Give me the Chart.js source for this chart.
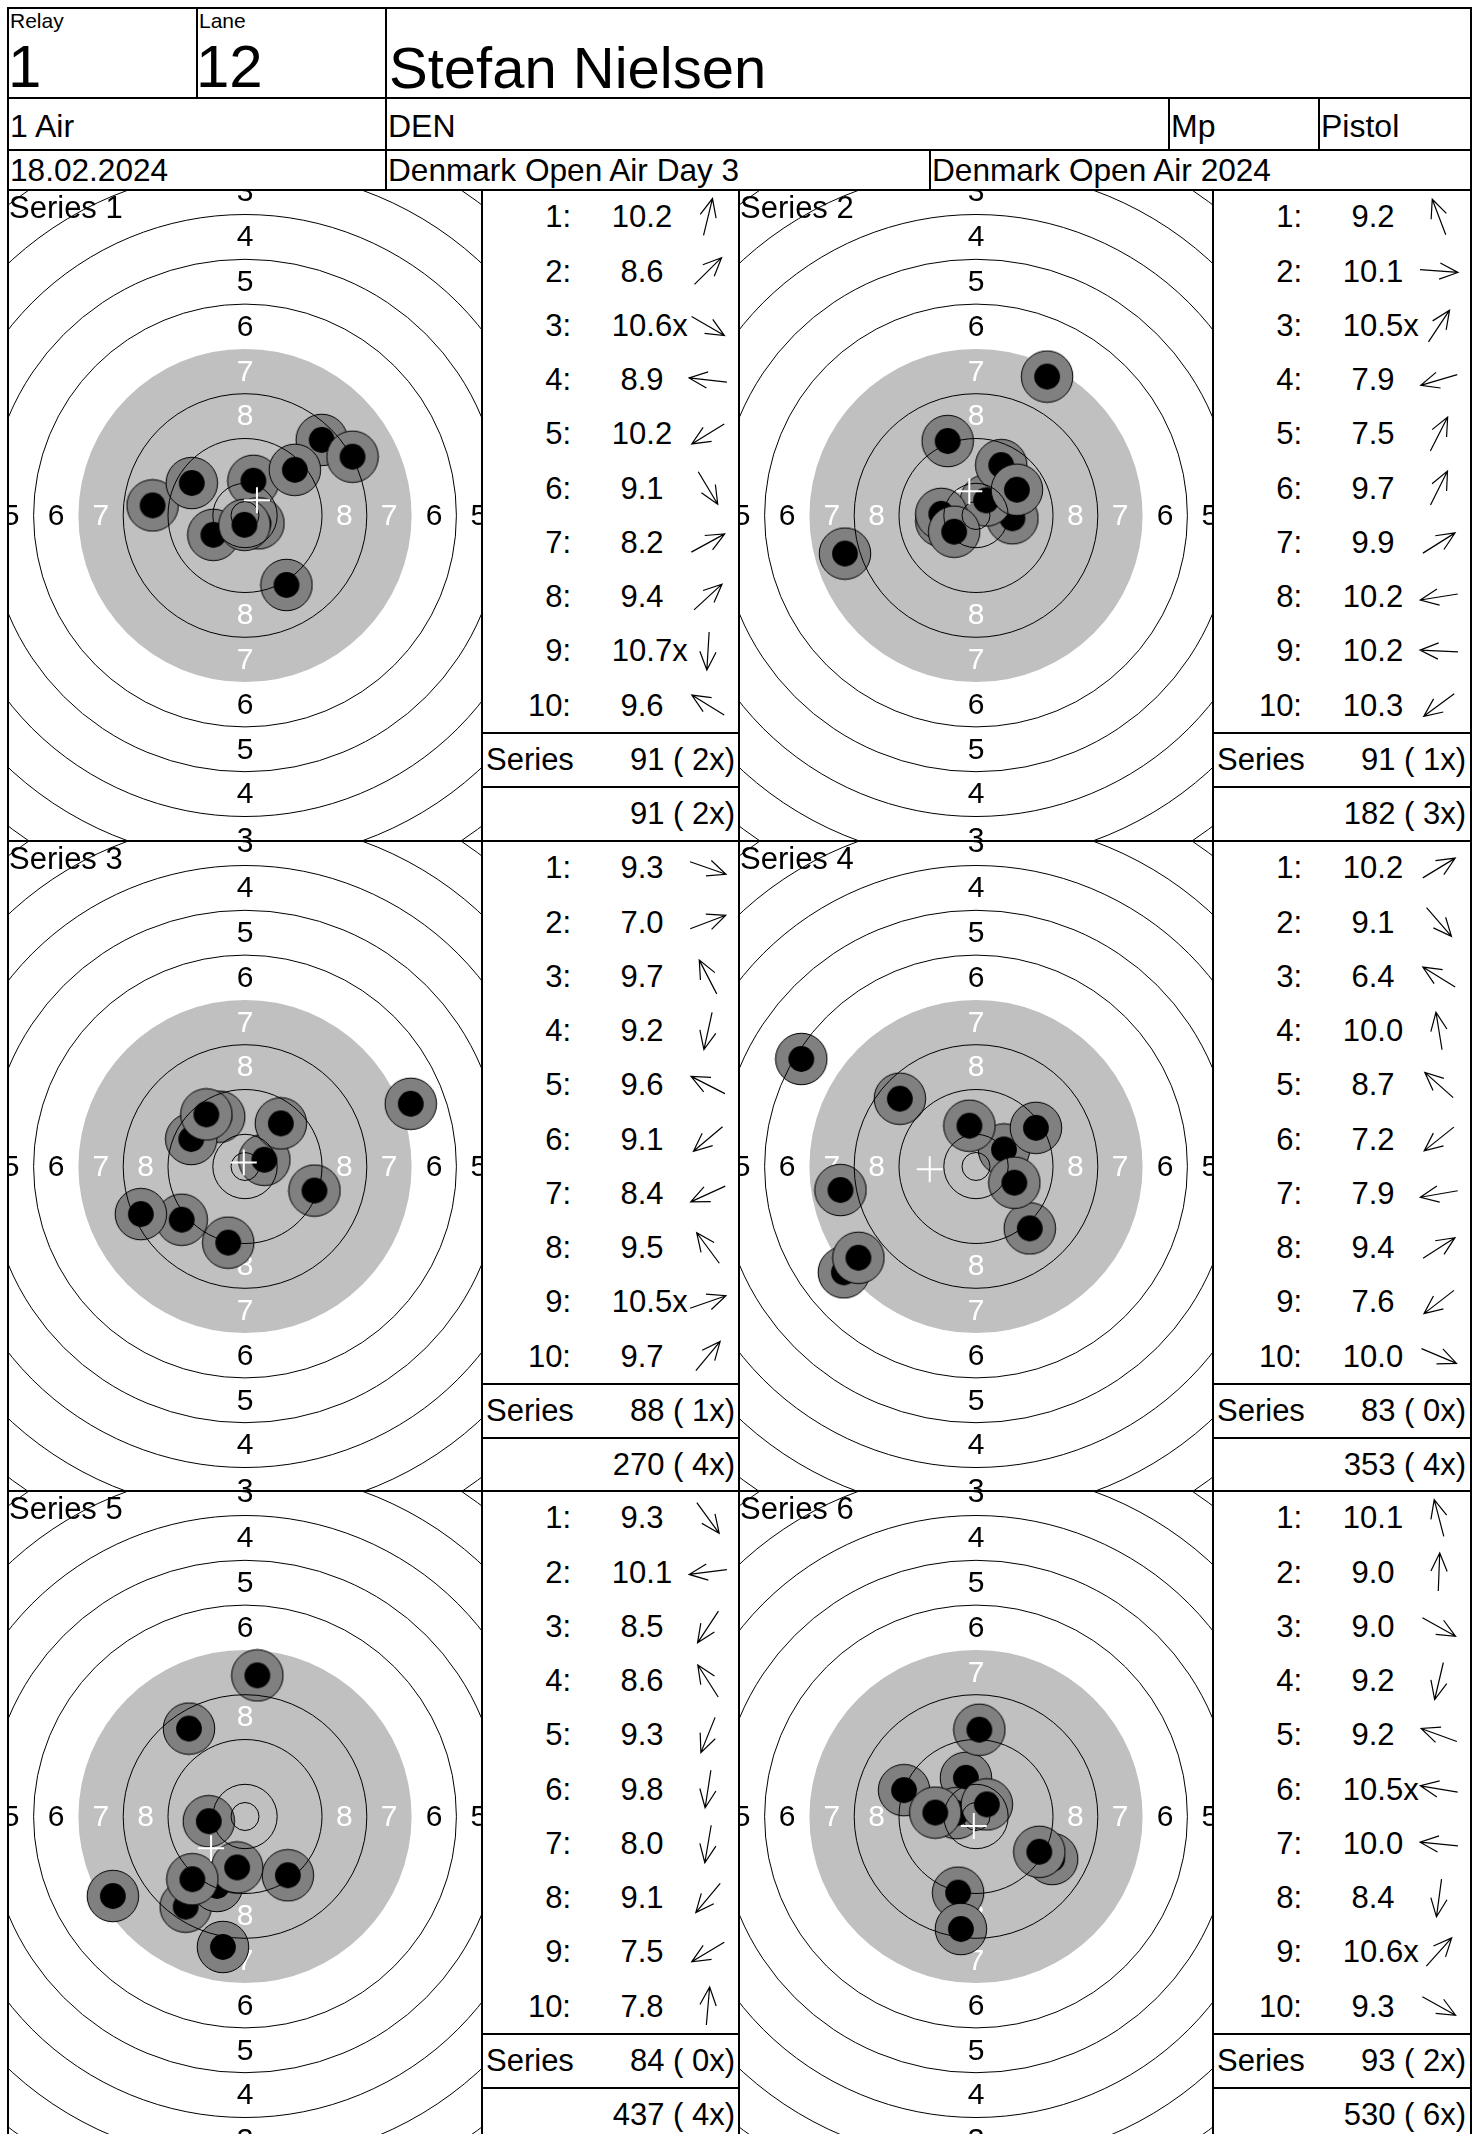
<!DOCTYPE html>
<html>
<head>
<meta charset="utf-8">
<script src="https://cdn.jsdelivr.net/npm/chart.js@4.4.1/dist/chart.umd.min.js"></script>
<style>
  html, body { margin: 0; padding: 0; width: 1478px; height: 2134px; overflow: hidden; background: #fff; }
  body { position: relative; font-family: "Liberation Sans", Arial, Helvetica, sans-serif; color: #000; }
  .ln { position: absolute; background: #000; }
  .t { position: absolute; white-space: nowrap; line-height: 1; }
  canvas { position: absolute; }
</style>
</head>
<body>
<script>
// header texts
const relayNo = '1';
const laneNo = '12';
const shooterName = 'Stefan Nielsen';
const headerRow2 = ['1 Air', 'DEN', 'Mp', 'Pistol'];
const headerRow3 = ['18.02.2024', 'Denmark Open Air Day 3', 'Denmark Open Air 2024'];

// series
const seriesNames = ['Series 1', 'Series 2', 'Series 3', 'Series 4', 'Series 5', 'Series 6'];

// shot positions in mm from target centre (x right, y up), one row per series
const shotX = [
  [1.5, 13.7, 2.4, -16.5, -5.65, 7.4, 19.2, 8.9, -0.1, -9.5],
  [-5.06, 6.5, 1.8, -23.4, 12.7, 4.5, 7.3, -6.2, -6.2, -3.9],
  [12.4, 29.6, -4.6, -3.0, -9.6, -11.3, -18.6, -6.9, 3.45, 6.4],
  [5.0, 9.6, -31.2, -1.18, -13.6, -23.6, -24.2, 10.7, -21.0, 6.85],
  [7.65, -6.47, -10.6, -10.0, -5.0, -1.4, -3.95, -9.4, -23.6, 2.2],
  [-1.8, 0.6, 13.6, -3.2, -12.85, -3.5, -7.27, -2.7, 1.94, 11.3]
];
const shotY = [
  [6.2, 13.5, -1.4, 1.8, -3.45, -12.4, 10.5, 8.15, -1.67, 5.8],
  [13.3, -0.5, 2.7, -6.8, 24.8, 9.0, 4.6, -1.0, 0.3, -2.9],
  [-4.3, 11.2, 8.9, -13.6, 4.9, -9.5, -8.5, 9.3, 1.2, 7.7],
  [3.04, -11.06, 19.2, 7.28, 12.1, -18.9, -4.2, 6.9, -16.3, -2.9],
  [-10.5, -0.84, -16.1, 15.7, -12.4, -9.1, -23.3, -11.2, -14.2, 25.2],
  [6.9, 15.5, -7.6, -13.6, 4.7, 0.6, 0.7, -20.1, 2.16, -6.3]
];
const scores = [
  [10.2, 8.6, 10.6, 8.9, 10.2, 9.1, 8.2, 9.4, 10.7, 9.6],
  [9.2, 10.1, 10.5, 7.9, 7.5, 9.7, 9.9, 10.2, 10.2, 10.3],
  [9.3, 7.0, 9.7, 9.2, 9.6, 9.1, 8.4, 9.5, 10.5, 9.7],
  [10.2, 9.1, 6.4, 10.0, 8.7, 7.2, 7.9, 9.4, 7.6, 10.0],
  [9.3, 10.1, 8.5, 8.6, 9.3, 9.8, 8.0, 9.1, 7.5, 7.8],
  [10.1, 9.0, 9.0, 9.2, 9.2, 10.5, 10.0, 8.4, 10.6, 9.3]
];
const innerTens = [
  [0, 0, 1, 0, 0, 0, 0, 0, 1, 0],
  [0, 0, 1, 0, 0, 0, 0, 0, 0, 0],
  [0, 0, 0, 0, 0, 0, 0, 0, 1, 0],
  [0, 0, 0, 0, 0, 0, 0, 0, 0, 0],
  [0, 0, 0, 0, 0, 0, 0, 0, 0, 0],
  [0, 0, 0, 0, 0, 1, 0, 0, 1, 0]
];
const seriesTotals = [91, 91, 88, 83, 84, 93];
const seriesX = [2, 1, 1, 0, 0, 2];
const runningTotals = [91, 182, 270, 353, 437, 530];
const runningX = [2, 3, 4, 4, 4, 6];

// air pistol target, ring edges 1..10 in mm (radius), inner ten, ring numbers printed
const ringRadii = [77.75, 69.75, 61.75, 53.75, 45.75, 37.75, 29.75, 21.75, 13.75, 5.75];
const innerTenRadius = 2.5;
const ringLabels = ['1', '2', '3', '4', '5', '6', '7', '8'];

// layout
const FONT = '"Liberation Sans", Arial, Helvetica, sans-serif';
const PX_PER_MM = 5.6;
const TARGET_W = 474, TARGET_H = 651, TABLE_W = 257;
const ROW_H = TARGET_H / 12;
const panelTops = [190, 841, 1491];
const panelLefts = [8, 739];
const LEFT = 8, RIGHT = 1471;

function line(x, y, w, h) {
  const d = document.createElement('div');
  d.className = 'ln';
  d.style.left = x + 'px'; d.style.top = y + 'px';
  d.style.width = w + 'px'; d.style.height = h + 'px';
  document.body.appendChild(d);
}
function hline(x1, x2, y) { line(x1 - 1, y - 1, x2 - x1 + 2, 2); }
function vline(x, y1, y2) { line(x - 1, y1 - 1, 2, y2 - y1 + 2); }

// text placed by its baseline
function text(str, x, base, size, align) {
  const d = document.createElement('div');
  d.className = 't';
  d.textContent = str;
  d.style.fontSize = size + 'px';
  d.style.top = (base - 0.8465 * size) + 'px';
  if (align === 'right') d.style.right = (1478 - x) + 'px';
  else if (align === 'center') { d.style.left = x + 'px'; d.style.transform = 'translateX(-50%)'; }
  else d.style.left = x + 'px';
  document.body.appendChild(d);
  return d;
}

// ---------- header ----------
text('Relay', 10, 28, 21);
text(relayNo, 8, 88, 60);
text('Lane', 199, 28, 21);
text(laneNo, 196, 88, 60);
text(shooterName, 389, 88, 58);
text(headerRow2[0], 10, 137.5, 32);
text(headerRow2[1], 388, 137.5, 32);
text(headerRow2[2], 1171, 137.5, 32);
text(headerRow2[3], 1321, 137.5, 32);
text(headerRow3[0], 10, 182, 31.6);
text(headerRow3[1], 388, 182, 31.6);
text(headerRow3[2], 932, 182, 31.6);

// ---------- targets ----------
function makeShotImage() {
  const haloR = 4.6 * PX_PER_MM, dotR = 2.3 * PX_PER_MM;
  const size = Math.ceil(haloR * 2 + 2);
  const c = document.createElement('canvas');
  c.width = c.height = size;
  const g = c.getContext('2d');
  const m = size / 2;
  g.fillStyle = '#808080';
  g.strokeStyle = '#000';
  g.lineWidth = 1;
  g.beginPath(); g.arc(m, m, haloR, 0, 2 * Math.PI); g.fill(); g.stroke();
  g.fillStyle = '#000';
  g.beginPath(); g.arc(m, m, dotR, 0, 2 * Math.PI); g.fill();
  return c;
}
const shotImage = makeShotImage();

const targetPlugin = {
  id: 'airPistolTarget',
  beforeDatasetsDraw(chart) {
    const { ctx, chartArea: a, scales: { x, y } } = chart;
    const cx = x.getPixelForValue(0), cy = y.getPixelForValue(0);
    const k = x.getPixelForValue(1) - cx;
    ctx.save();
    ctx.beginPath(); ctx.rect(a.left, a.top, a.width, a.height); ctx.clip();
    // black area (rings 7-10) shown in light grey
    ctx.fillStyle = '#c0c0c0';
    ctx.beginPath(); ctx.arc(cx, cy, ringRadii[6] * k, 0, 2 * Math.PI); ctx.fill();
    ctx.font = '30px ' + FONT;
    ctx.textAlign = 'center';
    ctx.textBaseline = 'middle';
    ringLabels.forEach((lab, i) => {
      const r = (ringRadii[i] + ringRadii[i + 1]) / 2 * k;
      ctx.fillStyle = i >= 6 ? '#fff' : '#000';
      ctx.fillText(lab, cx, cy - r + 1);
      ctx.fillText(lab, cx, cy + r + 1);
      ctx.fillText(lab, cx - r, cy + 1);
      ctx.fillText(lab, cx + r, cy + 1);
    });
    ctx.restore();
  },
  afterDatasetsDraw(chart) {
    const { ctx, chartArea: a, scales: { x, y } } = chart;
    const cx = x.getPixelForValue(0), cy = y.getPixelForValue(0);
    const k = x.getPixelForValue(1) - cx;
    ctx.save();
    ctx.beginPath(); ctx.rect(a.left, a.top, a.width, a.height); ctx.clip();
    ctx.strokeStyle = '#000';
    ctx.lineWidth = 1;
    ringRadii.concat([innerTenRadius]).forEach((r, i) => {
      if (i === 6) return; // edge of the black area has no line
      ctx.beginPath(); ctx.arc(cx, cy, r * k, 0, 2 * Math.PI); ctx.stroke();
    });
    // mean point of impact
    const pts = chart.data.datasets[0].data;
    const mx = x.getPixelForValue(pts.reduce((s, p) => s + p.x, 0) / pts.length);
    const my = y.getPixelForValue(pts.reduce((s, p) => s + p.y, 0) / pts.length);
    ctx.strokeStyle = '#fff';
    ctx.lineWidth = 2;
    ctx.beginPath();
    ctx.moveTo(mx - 13, my); ctx.lineTo(mx + 13, my);
    ctx.moveTo(mx, my - 13); ctx.lineTo(mx, my + 13);
    ctx.stroke();
    ctx.restore();
  }
};

const xHalf = TARGET_W / 2 / PX_PER_MM;
const yHalf = TARGET_H / 2 / PX_PER_MM;

function drawArrow(cxp, cyp, ang) {
  const ns = 'http://www.w3.org/2000/svg';
  const svg = document.createElementNS(ns, 'svg');
  svg.setAttribute('width', 50); svg.setAttribute('height', 50);
  svg.style.position = 'absolute';
  svg.style.left = (cxp - 25) + 'px'; svg.style.top = (cyp - 25) + 'px';
  const dx = Math.cos(ang), dy = -Math.sin(ang);
  const half = 19, head = 20, spread = 24 * Math.PI / 180;
  const tip = [25 + half * dx, 25 + half * dy];
  const tail = [25 - half * dx, 25 - half * dy];
  const back = Math.atan2(-dy, -dx);
  const b1 = [tip[0] + head * Math.cos(back + spread), tip[1] + head * Math.sin(back + spread)];
  const b2 = [tip[0] + head * Math.cos(back - spread), tip[1] + head * Math.sin(back - spread)];
  const p = document.createElementNS(ns, 'path');
  p.setAttribute('d', `M${tail[0]},${tail[1]}L${tip[0]},${tip[1]}M${b1[0]},${b1[1]}L${tip[0]},${tip[1]}L${b2[0]},${b2[1]}`);
  p.setAttribute('stroke', '#000'); p.setAttribute('stroke-width', '1.2'); p.setAttribute('fill', 'none');
  svg.appendChild(p);
  document.body.appendChild(svg);
}

seriesNames.forEach((name, s) => {
  const top = panelTops[Math.floor(s / 2)];
  const left = panelLefts[s % 2];

  const canvas = document.createElement('canvas');
  canvas.width = TARGET_W; canvas.height = TARGET_H;
  canvas.style.left = left + 'px'; canvas.style.top = top + 'px';
  canvas.style.width = TARGET_W + 'px'; canvas.style.height = TARGET_H + 'px';
  document.body.appendChild(canvas);

  new Chart(canvas, {
    type: 'scatter',
    data: {
      datasets: [{
        data: shotX[s].map((v, i) => ({ x: v, y: shotY[s][i] })),
        pointStyle: shotImage,
        pointRadius: 10,
        pointHoverRadius: 10,
        clip: 0
      }]
    },
    options: {
      responsive: false,
      animation: false,
      devicePixelRatio: 1,
      events: [],
      layout: { padding: 0, autoPadding: false },
      scales: {
        x: { type: 'linear', min: -xHalf, max: xHalf, display: false },
        y: { type: 'linear', min: -yHalf, max: yHalf, display: false }
      },
      plugins: { legend: { display: false }, tooltip: { enabled: false } }
    },
    plugins: [targetPlugin]
  });

  text(name, left + 1, top + 28, 31);

  // score table
  const tl = left + TARGET_W;
  scores[s].forEach((v, i) => {
    const base = top + (i + 0.5) * ROW_H + 10.5;
    text((i + 1) + ':', tl + 89, base, 31, 'right');
    const d = text(v.toFixed(1), tl + 160, base, 31, 'center');
    if (innerTens[s][i]) {
      const sx = document.createElement('span');
      sx.textContent = 'x';
      sx.style.position = 'absolute';
      d.appendChild(sx);
    }
    drawArrow(tl + 226, top + (i + 0.5) * ROW_H, Math.atan2(shotY[s][i], shotX[s][i]));
  });
  text('Series', tl + 4, top + 10.5 * ROW_H + 10.5, 31);
  text(seriesTotals[s] + ' ( ' + seriesX[s] + 'x)', tl + TABLE_W - 4, top + 10.5 * ROW_H + 10.5, 31, 'right');
  text(runningTotals[s] + ' ( ' + runningX[s] + 'x)', tl + TABLE_W - 4, top + 11.5 * ROW_H + 10.5, 31, 'right');
  hline(tl, tl + TABLE_W, top + 10 * ROW_H);
  hline(tl, tl + TABLE_W, top + 11 * ROW_H);
});

// ---------- grid lines ----------
hline(LEFT, RIGHT, 8);
hline(LEFT, RIGHT, 98);
hline(LEFT, RIGHT, 150);
hline(LEFT, RIGHT, 190);
hline(LEFT, RIGHT, 841);
hline(LEFT, RIGHT, 1491);
vline(LEFT, 8, 2134);
vline(RIGHT, 8, 2134);
vline(197, 8, 98);
vline(386, 8, 190);
vline(1169, 98, 150);
vline(1319, 98, 150);
vline(930, 150, 190);
[482, 739, 1213].forEach(x => vline(x, 190, 2134));
</script>
</body>
</html>
